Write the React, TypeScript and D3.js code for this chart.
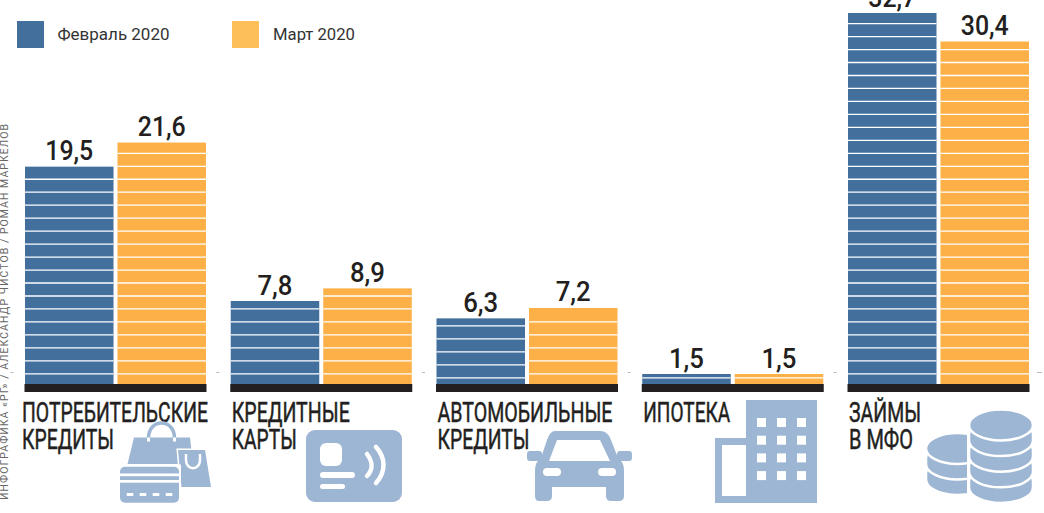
import React from "react";
import * as d3 from "d3";

const categories = ["Потребительские кредиты", "Кредитные карты", "Автомобильные кредиты", "Ипотека", "Займы в МФО"];
const labelLines = [["ПОТРЕБИТЕЛЬСКИЕ", "КРЕДИТЫ"], ["КРЕДИТНЫЕ", "КАРТЫ"], ["АВТОМОБИЛЬНЫЕ", "КРЕДИТЫ"], ["ИПОТЕКА"], ["ЗАЙМЫ", "В МФО"]];
const february = [19.5, 7.8, 6.3, 1.5, 32.7];
const march = [21.6, 8.9, 7.2, 1.5, 30.4];
const seriesNames = ["Февраль 2020", "Март 2020"];
const credit = "ИНФОГРАФИКА «РГ» / АЛЕКСАНДР ЧИСТОВ / РОМАН МАРКЕЛОВ";

const BLUE = "#426f9c";
const ORANGE = "#fdb048";
const ICON = "#9db6d3";
const DARK = "#231f20";
const FONT = "'Liberation Sans Narrow','Roboto','Liberation Sans',sans-serif";
const BASE = 384;

// The source is a hand-drawn infographic: its bar heights are not strictly proportional
const h = d3.scaleLinear().domain([0, 1.5, 7.8, 30.4, 32.7]).range([0, 10, 83, 342.5, 371]);
const x0 = d3.scaleLinear().domain([0, 4]).range([24.5, 847.5]);
const barW = 88.5;
const barX = [0.5, 93];
const stripeIdx = d3.range(0, 30);
const labelW = [[186, 92], [118, 65], [175, 92], [87], [72, 64]];
const stripeShift = [[0, 0], [0, 0], [4, 0], [4, 4], [0, 0]];
const stripeY = (k: number, shift: number) => 373.8 + shift - 12.97 * k;

function Bar({ x, v, color, shift }: { x: number; v: number; color: string; shift: number }) {
  const top = BASE - h(v);
  return (
    <g>
      <rect x={x} y={top} width={barW} height={BASE - top} fill={color} />
      {stripeIdx.filter((k) => stripeY(k, shift) > top + 1).map((k) => (
        <line key={k} x1={x} x2={x + barW} y1={stripeY(k, shift)} y2={stripeY(k, shift)} stroke="#fff" strokeWidth={1.3} />
      ))}
    </g>
  );
}

function Bags() {
  return (
    <g fill={ICON}>
      <path d="M134 437.5 L190 437.5 L193 464 L127.5 464 Z" />
      <path d="M148.5 442 L148.5 438 C148.5 418 174.5 418 174.5 438 L174.5 442" fill="none" stroke={ICON} strokeWidth={3.5} />
      <rect x={147} y={437.5} width={3} height={4} fill="#fff" />
      <rect x={173} y={437.5} width={3} height={4} fill="#fff" />
      <path d="M178 450 L205 450 L211 487 L181.5 487 Z" stroke="#fff" strokeWidth={3} paintOrder="stroke" />
      <path d="M186 454 L186 460 C186 471 200 471 200 460 L200 454" fill="none" stroke="#fff" strokeWidth={2.5} />
      <rect x={118} y={464.5} width={63} height={40} fill="#fff" />
      <rect x={120} y={466.7} width={59} height={36} rx={5} />
      <rect x={120} y={473.5} width={59} height={2.7} fill="#fff" />
      <rect x={120} y={480} width={59} height={2.7} fill="#fff" />
      {[126.7, 139.7, 152.7, 165.7].map((px) => <rect key={px} x={px} y={493} width={6.6} height={3} fill="#fff" />)}
    </g>
  );
}

function Card() {
  return (
    <g>
      <rect x={306} y={430} width={96} height={72} rx={9} fill={ICON} />
      <rect x={320} y={443} width={22} height={23} rx={6} fill="#fff" />
      <rect x={320} y={472} width={35} height={6} rx={3} fill="#fff" />
      <rect x={320} y={484} width={25} height={5} rx={2.5} fill="#fff" />
      <path d="M367 454 C373 462 373 470 367 476" fill="none" stroke="#fff" strokeWidth={4.5} strokeLinecap="round" />
      <path d="M376 447 C386 458 386 472 376 483" fill="none" stroke="#fff" strokeWidth={4.5} strokeLinecap="round" />
    </g>
  );
}

function Car() {
  return (
    <g fill={ICON}>
      <path d="M555 431 L600 431 Q608 431 611 440 L618 458 Q624 462 624 470 L624 496 Q624 501 619 501 L611 501 Q606 501 606 496 L606 487 L552 487 L552 496 Q552 501 547 501 L539 501 Q535 501 535 496 L535 470 Q535 462 541 458 L547 440 Q550 431 555 431 Z" />
      <rect x={527} y={451} width={15} height={10} rx={3} />
      <rect x={617} y={451} width={15} height={10} rx={3} />
      <path d="M557 440 L600 440 L610 461 L549 461 Z" fill="#fff" />
      <rect x={543} y={468} width={18} height={8} rx={4} fill="#fff" />
      <rect x={598} y={468} width={18} height={8} rx={4} fill="#fff" />
    </g>
  );
}

// One coin: a flat ellipse with a short straight rim, so the stack reads as a cylinder
function coinPath(cx: number, cy: number, r: number, ry: number) {
  const rim = 6;
  return `M${cx - r},${cy - rim} L${cx - r},${cy} A${r},${ry} 0 0 0 ${cx + r},${cy} L${cx + r},${cy - rim} A${r},${ry} 0 0 0 ${cx - r},${cy - rim} Z`;
}

function Coins() {
  const big = [4, 3, 2, 1];
  const small = [2, 1];
  return (
    <g fill={ICON} stroke="#fff" strokeWidth={2.5}>
      <clipPath id="coin-left"><rect x={920} y={425} width={47} height={80} /></clipPath>
      <g clipPath="url(#coin-left)">
        {small.map((i) => <path key={i} d={coinPath(957.5, 448.5 + i * 15.5, 31.5, 15.5)} />)}
        <ellipse cx={957.5} cy={448.5} rx={31.5} ry={15.5} />
      </g>
      {big.map((i) => <path key={i} d={coinPath(1001, 425 + i * 15.6, 32, 15.5)} />)}
      <ellipse cx={1001} cy={425} rx={32} ry={15.5} />
    </g>
  );
}

function Building() {
  const cols = d3.range(0, 3);
  const rows = d3.range(0, 4);
  return (
    <g>
      <rect x={746} y={400} width={71} height={103} fill={ICON} />
      <rect x={715} y={438} width={31} height={65} fill={ICON} />
      <rect x={722} y={445} width={24} height={51} fill="#fff" />
      {rows.map((r) => cols.map((c) => (
        <rect key={`${r}-${c}`} x={757 + c * 20} y={418 + r * 17.7} width={9} height={9} fill="#fff" />
      )))}
    </g>
  );
}

export default function App() {
  return (
    <svg width={1044} height={513} style={{ position: "absolute", left: 0, top: 0, display: "block", background: "#fff" }}>
      <rect x={17} y={21} width={27} height={27} fill={BLUE} />
      <text x={57.5} y={40} fontFamily="'Roboto',sans-serif" fontSize={17} fill="#333" textLength={112} lengthAdjust="spacingAndGlyphs">{seriesNames[0]}</text>
      <rect x={232} y={21} width={27} height={27} fill="#fdbf5a" />
      <text x={273} y={40} fontFamily="'Roboto',sans-serif" fontSize={17} fill="#333" textLength={82} lengthAdjust="spacingAndGlyphs">{seriesNames[1]}</text>

      <text transform="translate(8,500) rotate(-90)" fontFamily="'Roboto',sans-serif" fontSize={10.5} fill="#666" textLength={376} lengthAdjust="spacing">{credit}</text>

      {categories.map((c, i) => {
        const gx = x0(i);
        return (
          <g key={c}>
            <line x1={gx - 14} x2={gx - 11} y1={372.5} y2={372.5} stroke="#aaa" strokeWidth={0.8} />
            <Bar x={gx + barX[0]} v={february[i]} color={BLUE} shift={stripeShift[i][0]} />
            <Bar x={gx + barX[1]} v={march[i]} color={ORANGE} shift={stripeShift[i][1]} />
            <rect x={gx} y={384} width={182} height={8} fill={DARK} />
            {[february[i], march[i]].map((v, j) => {
              const t = String(v).replace(".", ",");
              return (
                <text key={j} x={gx + barX[j] + barW / 2} y={BASE - h(v) - 6.5} textAnchor="middle" fontFamily="'Roboto',sans-serif" fontWeight={500} fontSize={27} fill={DARK} textLength={t.length === 4 ? 48 : 35} lengthAdjust="spacingAndGlyphs">
                  {t}
                </text>
              );
            })}
            {labelLines[i].map((t, j) => (
              <text key={j} x={gx + (i === 0 ? -2.5 : 1.5)} y={421.7 + j * 27} fontFamily={FONT} fontSize={28} fill={DARK} stroke={DARK} strokeWidth={0.5} textLength={labelW[i][j]} lengthAdjust="spacingAndGlyphs">{t}</text>
            ))}
          </g>
        );
      })}
      <line x1={1037} x2={1042} y1={372.5} y2={372.5} stroke="#aaa" strokeWidth={0.8} />
      <Bags />
      <Card />
      <Car />
      <Building />
      <Coins />
    </svg>
  );
}
